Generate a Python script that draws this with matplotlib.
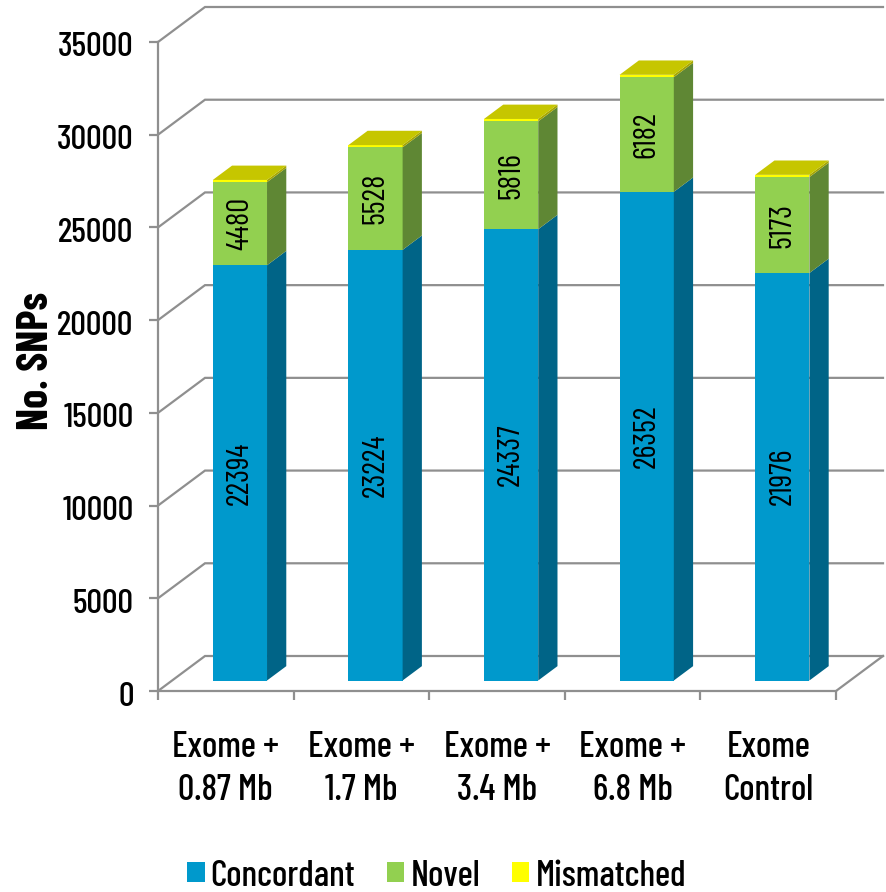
import matplotlib
matplotlib.use("Agg")
import matplotlib.pyplot as plt
from matplotlib.patches import Polygon, Patch, Rectangle
from matplotlib.legend_handler import HandlerPatch
from matplotlib.transforms import ScaledTranslation

plt.rcParams['font.family'] = ['Barlow Condensed', 'DejaVu Sans']
plt.rcParams['font.weight'] = 500

categories = ["Exome +\n0.87 Mb", "Exome +\n1.7 Mb", "Exome +\n3.4 Mb", "Exome +\n6.8 Mb", "Exome\nControl"]
concordant = [22394, 23224, 24337, 26352, 21976]
novel = [4480, 5528, 5816, 6182, 5173]
mismatched = [120, 120, 130, 130, 120]
y_ticks = [0, 5000, 10000, 15000, 20000, 25000, 30000, 35000]

series = [
    ("Concordant", concordant, "#0099cc", "#006487", "#0099cc"),
    ("Novel", novel, "#92d050", "#5f8734", "#92d050"),
    ("Mismatched", mismatched, "#ffff00", "#a6a600", "#c6c600"),
]

W, H = 886, 892
GRID = "#8f8f8f"

fig = plt.figure(figsize=(W / 100, H / 100), dpi=100)
ax = fig.add_axes([158 / W, (H - 691) / H, 678 / W, 649 / H])
ax.set_xlim(0, 5)
ax.set_ylim(0, 35000)

# Oblique depth: full depth of the plot box, in data units
DEPTH_X = 47 / (678 / 5)
DEPTH_Y = 35 / (649 / 35000)


def proj(x, y, z):
    return x + z * DEPTH_X, y + z * DEPTH_Y


# Walls and floor gridlines
for v in y_ticks:
    x0, y0 = proj(0, v, 0)
    x1, y1 = proj(0, v, 1)
    x2, y2 = proj(5, v, 1)
    ax.plot([x0, x1, x2], [y0, y1, y2], color=GRID, lw=1.6, clip_on=False,
            zorder=1, solid_joinstyle="miter")
fx0, fy0 = proj(5, 0, 0)
fx1, fy1 = proj(5, 0, 1)
ax.plot([fx0, fx1], [fy0, fy1], color=GRID, lw=1.6, clip_on=False, zorder=1)

# Stacked oblique bars
BAR_W = 0.4
Z0, Z1 = 0.3, 0.71
for i in range(len(categories)):
    left = i + 0.5 - BAR_W / 2
    right = left + BAR_W
    base = 0
    for name, vals, front, side, top in series:
        v = vals[i]
        pts = [(left, base, Z0), (right, base, Z0), (right, base + v, Z0), (left, base + v, Z0)]
        ax.add_patch(Polygon([proj(*p) for p in pts], closed=True, fc=front, ec="none",
                             zorder=3, clip_on=False))
        pts = [(right, base, Z0), (right, base, Z1), (right, base + v, Z1), (right, base + v, Z0)]
        ax.add_patch(Polygon([proj(*p) for p in pts], closed=True, fc=side, ec="none",
                             zorder=3, clip_on=False))
        if name != "Mismatched":
            cx, cy = proj(i + 0.5, base + v / 2, Z0)
            ax.text(cx, cy, str(v), rotation=90, ha="center", va="center",
                    fontsize=22.5, fontweight=400, color="black", zorder=5)
        base += v
    pts = [(left, base, Z0), (right, base, Z0), (right, base, Z1), (left, base, Z1)]
    ax.add_patch(Polygon([proj(*p) for p in pts], closed=True, fc=series[-1][4], ec="none",
                         zorder=3, clip_on=False))

# Axes
for s in ("top", "right"):
    ax.spines[s].set_visible(False)
for s in ("left", "bottom"):
    ax.spines[s].set_color(GRID)
    ax.spines[s].set_linewidth(1.6)

ax.set_yticks(y_ticks)
ax.tick_params(axis="y", length=6.5, width=1.6, color=GRID, labelsize=25, pad=11)
label_shift = ScaledTranslation(0, -2.5 / 100, fig.dpi_scale_trans)
for lbl in ax.get_yticklabels():
    lbl.set_transform(lbl.get_transform() + label_shift)
ax.set_xticks(range(6))
ax.set_xticklabels([])
ax.tick_params(axis="x", length=6.5, width=1.6, color=GRID)
ax.set_xticks([i + 0.5 for i in range(5)], minor=True)
ax.set_xticklabels(categories, minor=True, fontsize=26, linespacing=1.38)
ax.tick_params(axis="x", which="minor", length=0, pad=29)
ax.set_ylabel("No. SNPs", fontsize=31, fontweight="bold", va="center")
ax.yaxis.set_label_coords((37 - 158) / 678, (691 - 361) / 649)


def raised_square(legend, orig_handle, xdescent, ydescent, width, height, fontsize):
    # Legend keys sit above the text baseline
    return Rectangle((-xdescent, -ydescent + 0.05 * fontsize), width, height)


handles = [Patch(fc=s[2], ec="none", label=s[0]) for s in series]
fig.legend(handles=handles, ncol=3, loc="lower left", bbox_to_anchor=(158 / W, -0.034),
           frameon=False, fontsize=26, handlelength=0.49, handleheight=0.49,
           handletextpad=0.17, columnspacing=0.87, borderpad=0.3,
           handler_map={Patch: HandlerPatch(patch_func=raised_square)})

fig.savefig("out.png", dpi=100)
